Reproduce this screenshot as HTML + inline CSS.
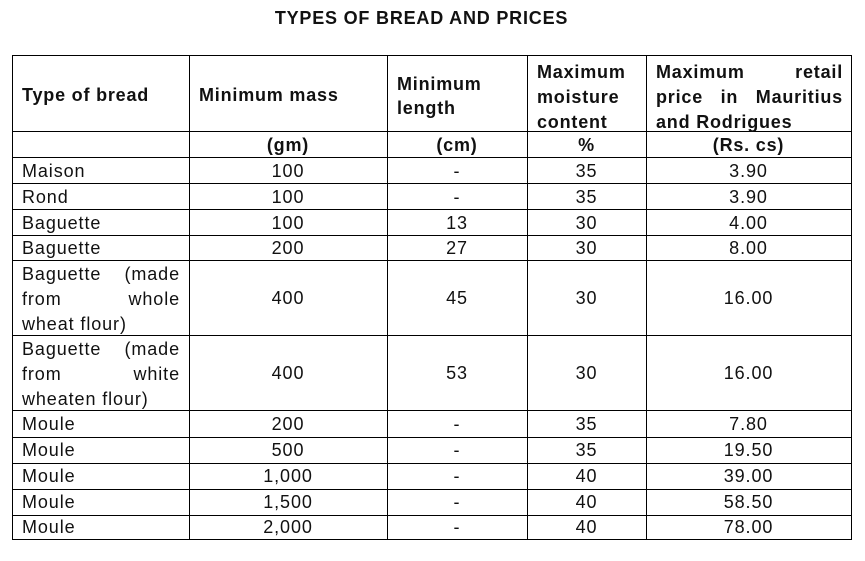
<!DOCTYPE html>
<html><head><meta charset="utf-8"><style>
body{margin:0;width:865px;height:561px;background:#fff;position:relative;overflow:hidden;font-family:"Liberation Sans",Arial,sans-serif;color:#111}
.h{position:absolute;height:1px;background:#000}
.v{position:absolute;width:1px;background:#000}
.t{position:absolute;font-size:18px;line-height:20px;white-space:nowrap;letter-spacing:0.9px}
.b{font-weight:bold;letter-spacing:0.8px}
.c{text-align:center}
.jl{display:block;text-align:justify;text-align-last:justify;white-space:normal}
.ll{display:block}
</style></head><body>
<div class="t b c" style="left:0;width:843px;top:8px">TYPES OF BREAD AND PRICES</div>

<div class="h" style="left:12px;width:840px;top:55px"></div>
<div class="h" style="left:12px;width:840px;top:131px"></div>
<div class="h" style="left:12px;width:840px;top:157px"></div>
<div class="h" style="left:12px;width:840px;top:183px"></div>
<div class="h" style="left:12px;width:840px;top:209px"></div>
<div class="h" style="left:12px;width:840px;top:235px"></div>
<div class="h" style="left:12px;width:840px;top:260px"></div>
<div class="h" style="left:12px;width:840px;top:335px"></div>
<div class="h" style="left:12px;width:840px;top:410px"></div>
<div class="h" style="left:12px;width:840px;top:437px"></div>
<div class="h" style="left:12px;width:840px;top:463px"></div>
<div class="h" style="left:12px;width:840px;top:489px"></div>
<div class="h" style="left:12px;width:840px;top:515px"></div>
<div class="h" style="left:12px;width:840px;top:539px"></div>

<div class="v" style="left:12px;top:55px;height:485px"></div>
<div class="v" style="left:189px;top:55px;height:485px"></div>
<div class="v" style="left:387px;top:55px;height:485px"></div>
<div class="v" style="left:527px;top:55px;height:485px"></div>
<div class="v" style="left:646px;top:55px;height:485px"></div>
<div class="v" style="left:851px;top:55px;height:485px"></div>

<div class="t b" style="left:22px;top:85px">Type of bread</div>
<div class="t b" style="left:199px;top:85px">Minimum mass</div>
<div class="t b" style="left:397px;top:72px;line-height:24px">Minimum<br>length</div>
<div class="t b" style="left:537px;top:60px;line-height:25px">Maximum<br>moisture<br>content</div>
<div class="t b" style="left:656px;top:60px;width:187px;line-height:25px"><span class="jl">Maximum retail</span><span class="jl">price in Mauritius</span><span class="ll">and Rodrigues</span></div>

<div class="t b c" style="left:189px;width:198px;top:135px">(gm)</div>
<div class="t b c" style="left:387px;width:140px;top:135px">(cm)</div>
<div class="t b c" style="left:527px;width:119px;top:135px">%</div>
<div class="t b c" style="left:646px;width:205px;top:135px">(Rs. cs)</div>

<div class="t" style="left:22px;top:161px">Maison</div>
<div class="t" style="left:22px;top:187px">Rond</div>
<div class="t" style="left:22px;top:213px">Baguette</div>
<div class="t" style="left:22px;top:238px">Baguette</div>
<div class="t" style="left:22px;top:262px;width:158px;line-height:25px"><span class="jl">Baguette (made</span><span class="jl">from whole</span><span class="ll">wheat flour)</span></div>
<div class="t" style="left:22px;top:337px;width:158px;line-height:25px"><span class="jl">Baguette (made</span><span class="jl">from white</span><span class="ll">wheaten flour)</span></div>
<div class="t" style="left:22px;top:414px">Moule</div>
<div class="t" style="left:22px;top:440px">Moule</div>
<div class="t" style="left:22px;top:466px">Moule</div>
<div class="t" style="left:22px;top:492px">Moule</div>
<div class="t" style="left:22px;top:517px">Moule</div>

<div class="t c" style="left:189px;width:198px;top:161px">100</div>
<div class="t c" style="left:189px;width:198px;top:187px">100</div>
<div class="t c" style="left:189px;width:198px;top:213px">100</div>
<div class="t c" style="left:189px;width:198px;top:238px">200</div>
<div class="t c" style="left:189px;width:198px;top:288px">400</div>
<div class="t c" style="left:189px;width:198px;top:363px">400</div>
<div class="t c" style="left:189px;width:198px;top:414px">200</div>
<div class="t c" style="left:189px;width:198px;top:440px">500</div>
<div class="t c" style="left:189px;width:198px;top:466px">1,000</div>
<div class="t c" style="left:189px;width:198px;top:492px">1,500</div>
<div class="t c" style="left:189px;width:198px;top:517px">2,000</div>

<div class="t c" style="left:387px;width:140px;top:161px">-</div>
<div class="t c" style="left:387px;width:140px;top:187px">-</div>
<div class="t c" style="left:387px;width:140px;top:213px">13</div>
<div class="t c" style="left:387px;width:140px;top:238px">27</div>
<div class="t c" style="left:387px;width:140px;top:288px">45</div>
<div class="t c" style="left:387px;width:140px;top:363px">53</div>
<div class="t c" style="left:387px;width:140px;top:414px">-</div>
<div class="t c" style="left:387px;width:140px;top:440px">-</div>
<div class="t c" style="left:387px;width:140px;top:466px">-</div>
<div class="t c" style="left:387px;width:140px;top:492px">-</div>
<div class="t c" style="left:387px;width:140px;top:517px">-</div>

<div class="t c" style="left:527px;width:119px;top:161px">35</div>
<div class="t c" style="left:527px;width:119px;top:187px">35</div>
<div class="t c" style="left:527px;width:119px;top:213px">30</div>
<div class="t c" style="left:527px;width:119px;top:238px">30</div>
<div class="t c" style="left:527px;width:119px;top:288px">30</div>
<div class="t c" style="left:527px;width:119px;top:363px">30</div>
<div class="t c" style="left:527px;width:119px;top:414px">35</div>
<div class="t c" style="left:527px;width:119px;top:440px">35</div>
<div class="t c" style="left:527px;width:119px;top:466px">40</div>
<div class="t c" style="left:527px;width:119px;top:492px">40</div>
<div class="t c" style="left:527px;width:119px;top:517px">40</div>

<div class="t c" style="left:646px;width:205px;top:161px">3.90</div>
<div class="t c" style="left:646px;width:205px;top:187px">3.90</div>
<div class="t c" style="left:646px;width:205px;top:213px">4.00</div>
<div class="t c" style="left:646px;width:205px;top:238px">8.00</div>
<div class="t c" style="left:646px;width:205px;top:288px">16.00</div>
<div class="t c" style="left:646px;width:205px;top:363px">16.00</div>
<div class="t c" style="left:646px;width:205px;top:414px">7.80</div>
<div class="t c" style="left:646px;width:205px;top:440px">19.50</div>
<div class="t c" style="left:646px;width:205px;top:466px">39.00</div>
<div class="t c" style="left:646px;width:205px;top:492px">58.50</div>
<div class="t c" style="left:646px;width:205px;top:517px">78.00</div>
</body></html>
